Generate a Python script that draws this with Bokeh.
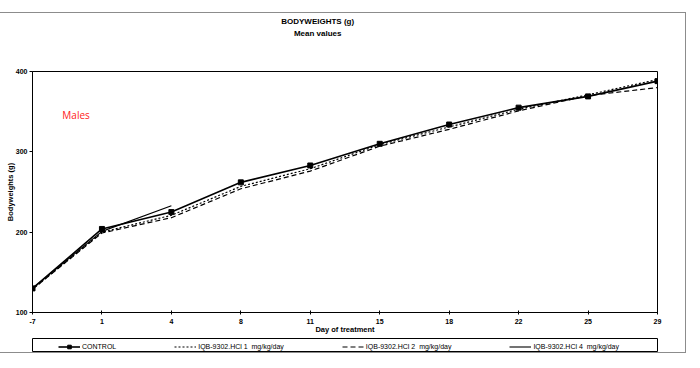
from bokeh.plotting import figure
from bokeh.layouts import column
from bokeh.models import (Legend, LegendItem, Label, FixedTicker, Range1d)
from bokeh.embed import file_html
from bokeh.resources import INLINE

# ---- data ----
days = ["-7", "1", "4", "8", "11", "15", "18", "22", "25", "29"]
control = [130, 204, 225, 262, 283, 310, 334, 355, 369, 388]
dose_1 = [129, 200, 221, 257, 279, 309, 331, 353, 371, 390]
dose_2 = [129, 199, 218, 254, 276, 307, 328, 351, 370, 380]
dose_4 = [130, 201, 233]
y_ticks = [100, 200, 300, 400]
series_names = ["CONTROL", "IQB-9302.HCl 1  mg/kg/day",
                "IQB-9302.HCl 2  mg/kg/day", "IQB-9302.HCl 4  mg/kg/day"]
title_lines = ["BODYWEIGHTS (g)", "Mean values"]

xs = list(range(len(days)))
FONT = "Liberation Sans"
W = 686

# ---- header strip with the two title lines ----
HH = 40
hd = figure(width=W, height=HH, output_backend="svg", toolbar_location=None,
            title_location=None, x_range=Range1d(0, W), y_range=Range1d(HH, 0),
            min_border_left=0, min_border_right=0,
            min_border_top=0, min_border_bottom=0)
hd.axis.visible = False
hd.grid.visible = False
hd.outline_line_color = None
hd.border_fill_color = None
hd.background_fill_color = None
for txt, ty in zip(title_lines, (8, 20)):
    hd.add_layout(Label(x=313, y=ty, text=txt, text_align="center",
                        text_baseline="middle", text_font=FONT,
                        text_font_size="8px", text_font_style="bold",
                        text_color="black"))

# ---- main chart ----
p = figure(width=W, height=284, output_backend="svg", toolbar_location=None,
           title_location=None,
           x_range=Range1d(0, len(days) - 1), y_range=Range1d(100, 400),
           min_border_left=33, min_border_right=26,
           min_border_top=18, min_border_bottom=25)
p.background_fill_color = "white"
p.border_fill_color = None
p.outline_line_color = "black"
p.outline_line_width = 1
p.grid.visible = False

p.xaxis.ticker = FixedTicker(ticks=xs)
p.xaxis.major_label_overrides = {i: d for i, d in enumerate(days)}
p.yaxis.ticker = FixedTicker(ticks=y_ticks)
p.xaxis.axis_label = "Day of treatment"
p.yaxis.axis_label = "Bodyweights (g)"
for ax in (p.xaxis, p.yaxis):
    ax.axis_line_color = "black"
    ax.major_tick_line_color = "black"
    ax.minor_tick_line_color = None
    ax.minor_tick_out = 0
    ax.major_label_text_font = FONT
    ax.major_label_text_font_size = "7px"
    ax.major_label_text_font_style = "bold"
    ax.major_label_text_color = "black"
    ax.axis_label_text_font = FONT
    ax.axis_label_text_font_size = "7.5px"
    ax.axis_label_text_font_style = "bold"
    ax.axis_label_text_color = "black"
    ax.axis_label_standoff = -2
p.xaxis.major_tick_in = 2
p.xaxis.major_tick_out = 2
p.xaxis.major_label_standoff = 4
p.yaxis.major_tick_in = 0
p.yaxis.major_tick_out = 3
p.yaxis.major_label_standoff = 2

p.line(xs, control, line_color="black", line_width=1.6)
p.scatter(xs, control, marker="square", size=5, color="black")
p.line(xs, dose_1, line_color="black", line_width=1.2, line_dash="2 2")
p.line(xs, dose_2, line_color="black", line_width=1.2, line_dash="5 3")
p.line(xs[:len(dose_4)], dose_4, line_color="black", line_width=1.1)

p.add_layout(Label(x=0.43, y=346, text="Males", text_color="#ff1a1a",
                   text_font="Open Sans", text_font_size="10px",
                   text_baseline="middle"))

# ---- legend strip (its frame is the legend box) ----
# the key renderers carry the series but sit outside this strip's visible range
lg = figure(width=W, height=15, output_backend="svg", toolbar_location=None,
            title_location=None, x_range=Range1d(0, 1), y_range=Range1d(0, 1),
            min_border_left=31, min_border_right=28,
            min_border_top=1, min_border_bottom=1)
lg.axis.visible = False
lg.grid.visible = False
lg.border_fill_color = None
lg.outline_line_color = "black"
lg.outline_line_width = 1
k_c = lg.line(xs, control, line_color="black", line_width=1.6)
k_cm = lg.scatter(xs, control, marker="square", size=5, color="black")
k_1 = lg.line(xs, dose_1, line_color="black", line_width=1.2, line_dash="2 2")
k_2 = lg.line(xs, dose_2, line_color="black", line_width=1.2, line_dash="5 3")
k_4 = lg.line(xs[:len(dose_4)], dose_4, line_color="black", line_width=1.1)
legend = Legend(items=[LegendItem(label=series_names[0], renderers=[k_c, k_cm]),
                       LegendItem(label=series_names[1], renderers=[k_1]),
                       LegendItem(label=series_names[2], renderers=[k_2]),
                       LegendItem(label=series_names[3], renderers=[k_4])],
                orientation="horizontal", location=(26, 0), spacing=58,
                padding=2, margin=0, glyph_width=22, glyph_height=9,
                label_height=9, label_standoff=2,
                label_text_font=FONT, label_text_font_size="7px",
                label_text_color="black",
                border_line_color=None, background_fill_alpha=0)
lg.add_layout(legend)

layout = column(hd, p, lg, spacing=0,
                styles={"border": "1px solid #8c8c8c", "margin-left": "-2px",
                        "margin-top": "12px", "background-color": "white"})

open("out.html", "w").write(file_html(layout, INLINE))
